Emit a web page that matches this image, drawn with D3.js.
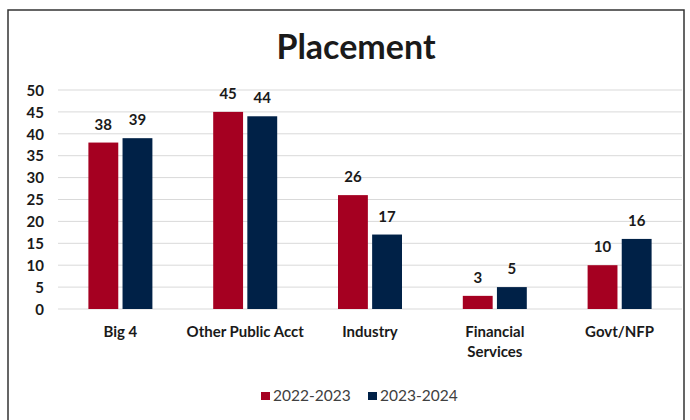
<!DOCTYPE html>
<html><head><meta charset="utf-8">
<script src="https://cdn.jsdelivr.net/npm/d3@7"></script>
<style>body{margin:0;background:#fff}svg{display:block}text{font-family:Lato,"Open Sans",sans-serif;font-weight:bold;fill:#1a1a1a}</style>
</head><body><svg id="c" width="690" height="420"></svg>
<script>
const categories = ["Big 4","Other Public Acct","Industry","Financial Services","Govt/NFP"];
const seriesNames = ["2022-2023","2023-2024"];
const values2022 = [38,45,26,3,10];
const values2023 = [39,44,17,5,16];
const yTicks = [0,5,10,15,20,25,30,35,40,45,50];
const colors = ["#A50021","#002147"];

const svg = d3.select("#c");
svg.append("rect").attr("x",8).attr("y",10).attr("width",676).attr("height",420).attr("fill","none").attr("stroke","#333").attr("stroke-width",1.5);

const x = d3.scaleBand().domain(categories).range([58,682]);
const y = d3.scaleLinear().domain([0,50]).range([309,90]);
const x1 = d3.scaleBand().domain(seriesNames).range([0,64]).paddingInner(0.125);

svg.append("text").attr("x",356).attr("y",59).attr("text-anchor","middle").style("font-size","34px").text("Placement");

const yAxis = d3.axisLeft(y).tickValues(yTicks).tickSize(0).tickPadding(0);
const gy = svg.append("g").attr("transform","translate(44,0)").call(yAxis);
gy.select(".domain").remove();
gy.selectAll("text").style("font-size","15px").attr("dy","0.35em");

svg.append("g").selectAll("line").data(yTicks).join("line")
  .attr("x1",58).attr("x2",682).attr("y1",d=>y(d)).attr("y2",d=>y(d))
  .attr("stroke","#d9d9d9").attr("stroke-width",1);

const data = categories.map((c,i)=>({c, vals:[values2022[i],values2023[i]]}));
const g = svg.append("g").selectAll("g").data(data).join("g")
  .attr("transform",d=>`translate(${x(d.c)+x.bandwidth()/2-32},0)`);
g.selectAll("rect").data(d=>d.vals.map((v,j)=>({v,s:seriesNames[j],j}))).join("rect")
  .attr("x",d=>x1(d.s)).attr("width",x1.bandwidth())
  .attr("y",d=>y(d.v)).attr("height",d=>y(0)-y(d.v)).attr("fill",d=>colors[d.j]);
g.selectAll("text").data(d=>d.vals.map((v,j)=>({v,s:seriesNames[j]}))).join("text")
  .attr("x",d=>x1(d.s)+x1.bandwidth()/2).attr("y",d=>y(d.v)-13)
  .attr("text-anchor","middle").style("font-size","15px").text(d=>d.v);

const xAxis = d3.axisBottom(x).tickSize(0).tickPadding(0);
const gx = svg.append("g").attr("transform","translate(0,337)").call(xAxis);
gx.select(".domain").remove();
gx.selectAll("text").style("font-size","15px").attr("dy","0").each(function(d){
  const t = d3.select(this);
  if(d==="Financial Services"){
    t.text(null);
    t.append("tspan").attr("x",0).attr("dy",0).text("Financial");
    t.append("tspan").attr("x",0).attr("dy",20).text("Services");
  }
});

const lg = svg.append("g").selectAll("g").data(seriesNames).join("g")
  .attr("transform",(d,i)=>`translate(${261+i*107},392)`);
lg.append("rect").attr("width",9).attr("height",8).attr("fill",(d,i)=>colors[i]);
lg.append("text").attr("x",12).attr("y",4).attr("dy","0.35em").style("font-size","15.5px").style("font-weight","normal").style("fill","#404040").text(d=>d);
</script></body></html>
